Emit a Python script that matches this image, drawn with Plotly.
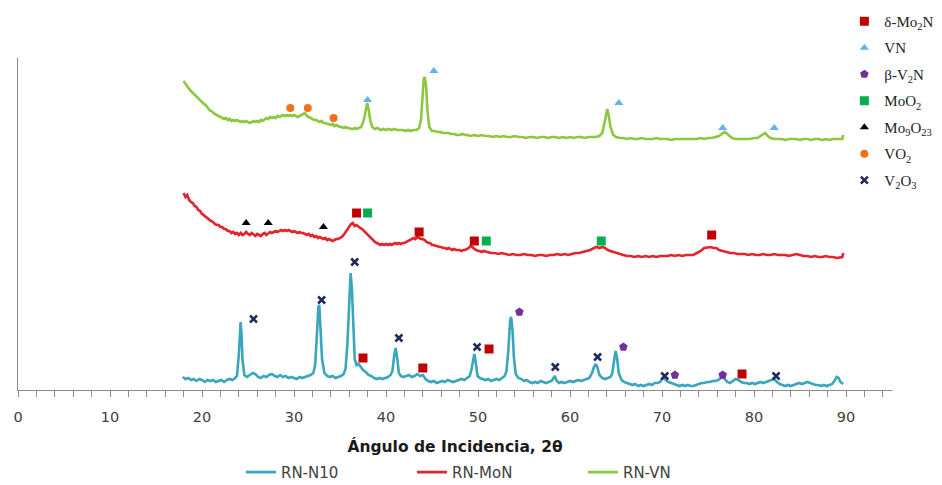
import plotly.graph_objects as go

# Diffractograms (2θ in degrees, intensity in arbitrary units, stacked with offsets)
rn_n10 = [
    (17.9, 18), (18.2, 16), (18.5, 17), (18.8, 15), (19.1, 16), (19.4, 14), (19.7, 16), (20.0, 15),
    (20.3, 13), (20.6, 15), (20.9, 14), (21.2, 15), (21.5, 13), (21.8, 14), (22.1, 15), (22.4, 13),
    (22.7, 15), (23.0, 16), (23.3, 15), (23.6, 17), (23.8, 19), (24.0, 40), (24.1, 62), (24.2, 73),
    (24.3, 60), (24.4, 35), (24.6, 20), (24.9, 18), (25.2, 20), (25.5, 22), (25.8, 21), (26.1, 18),
    (26.4, 17), (26.7, 19), (27.0, 18), (27.3, 20), (27.6, 21), (27.9, 19), (28.2, 18), (28.5, 20),
    (28.8, 18), (29.1, 19), (29.4, 17), (29.7, 18), (30.0, 17), (30.3, 16), (30.6, 18), (30.9, 17),
    (31.2, 18), (31.5, 19), (31.8, 20), (32.1, 22), (32.3, 30), (32.5, 62), (32.65, 88), (32.75, 90),
    (32.9, 65), (33.05, 36), (33.3, 22), (33.6, 19), (33.9, 18), (34.2, 19), (34.5, 17), (34.8, 18),
    (35.1, 19), (35.4, 21), (35.6, 26), (35.8, 50), (36.0, 100), (36.15, 122), (36.3, 105), (36.45, 60),
    (36.6, 36), (36.8, 30), (37.0, 31), (37.2, 29), (37.5, 25), (37.8, 23), (38.1, 20), (38.4, 19),
    (38.7, 17), (39.0, 16), (39.3, 17), (39.6, 16), (39.9, 17), (40.2, 18), (40.5, 20), (40.7, 24),
    (40.9, 40), (41.05, 47), (41.2, 38), (41.4, 22), (41.6, 19), (41.9, 18), (42.2, 19), (42.5, 20),
    (42.8, 18), (43.1, 19), (43.4, 21), (43.7, 19), (44.0, 20), (44.3, 16), (44.6, 14), (44.9, 13),
    (45.2, 14), (45.5, 12), (45.8, 13), (46.1, 14), (46.4, 13), (46.7, 15), (47.0, 14), (47.3, 13),
    (47.6, 14), (47.9, 15), (48.2, 16), (48.5, 15), (48.8, 17), (49.1, 19), (49.3, 26), (49.5, 39),
    (49.6, 41), (49.75, 33), (49.95, 19), (50.2, 17), (50.5, 16), (50.8, 15), (51.1, 16), (51.4, 14),
    (51.7, 15), (52.0, 16), (52.3, 15), (52.6, 17), (52.9, 19), (53.1, 24), (53.3, 45), (53.5, 75),
    (53.6, 78), (53.75, 65), (53.9, 38), (54.1, 21), (54.4, 17), (54.7, 16), (55.0, 14), (55.3, 15),
    (55.6, 13), (55.9, 12), (56.2, 13), (56.5, 12), (56.8, 14), (57.1, 13), (57.4, 12), (57.7, 13),
    (58.0, 14), (58.2, 17), (58.35, 19), (58.5, 15), (58.8, 12), (59.1, 13), (59.4, 12), (59.7, 13),
    (60.0, 14), (60.3, 13), (60.6, 14), (60.9, 15), (61.2, 14), (61.5, 15), (61.8, 16), (62.1, 17),
    (62.4, 22), (62.6, 28), (62.8, 31), (63.0, 27), (63.2, 20), (63.5, 17), (63.8, 16), (64.1, 17),
    (64.4, 18), (64.6, 22), (64.8, 38), (64.95, 44), (65.1, 38), (65.3, 22), (65.6, 15), (65.9, 13),
    (66.2, 12), (66.5, 11), (66.8, 10), (67.1, 11), (67.4, 9), (67.7, 10), (68.0, 9), (68.3, 10),
    (68.6, 11), (68.9, 10), (69.2, 12), (69.5, 12), (69.8, 13), (70.0, 16), (70.2, 18), (70.4, 15),
    (70.7, 13), (71.0, 12), (71.3, 11), (71.6, 10), (71.9, 9), (72.2, 10), (72.5, 9), (72.8, 10),
    (73.1, 9), (73.4, 9), (73.7, 10), (74.0, 11), (74.3, 12), (74.6, 12), (74.9, 13), (75.2, 13),
    (75.5, 14), (75.8, 14), (76.1, 15), (76.4, 17), (76.6, 19), (76.8, 16), (77.1, 13), (77.4, 12),
    (77.7, 14), (78.0, 16), (78.3, 15), (78.6, 13), (78.9, 12), (79.2, 12), (79.5, 11), (79.8, 12),
    (80.1, 11), (80.4, 12), (80.7, 13), (81.0, 12), (81.3, 13), (81.6, 14), (81.9, 15), (82.2, 16),
    (82.5, 13), (82.8, 11), (83.1, 10), (83.4, 9), (83.7, 10), (84.0, 9), (84.3, 10), (84.6, 11),
    (84.9, 12), (85.2, 11), (85.5, 12), (85.8, 13), (86.1, 12), (86.4, 11), (86.7, 10), (87.0, 10),
    (87.3, 9), (87.6, 10), (87.9, 9), (88.2, 10), (88.5, 11), (88.8, 15), (89.0, 18), (89.2, 17),
    (89.4, 13), (89.7, 11),
]

rn_mon = [
    (18.0, 202), (18.2, 198), (18.4, 200), (18.6, 195), (18.8, 193), (19.0, 192), (19.2, 189), (19.4, 188),
    (19.6, 185), (19.8, 184), (20.0, 181), (20.2, 180), (20.4, 178), (20.6, 177), (20.8, 175), (21.0, 174),
    (21.2, 173), (21.4, 171), (21.6, 170), (21.8, 170), (22.0, 168), (22.2, 168), (22.4, 166), (22.6, 166),
    (22.8, 164), (23.0, 164), (23.2, 162), (23.4, 163), (23.6, 161), (23.8, 162), (24.0, 160), (24.2, 162),
    (24.4, 160), (24.6, 161), (24.8, 163), (25.0, 161), (25.2, 160), (25.4, 162), (25.6, 160), (25.8, 159),
    (26.0, 161), (26.2, 160), (26.4, 159), (26.6, 161), (26.8, 162), (27.0, 160), (27.2, 162), (27.4, 163),
    (27.6, 162), (27.8, 163), (28.0, 164), (28.2, 163), (28.4, 164), (28.6, 165), (28.8, 164), (29.0, 165),
    (29.2, 164), (29.4, 165), (29.6, 164), (29.8, 163), (30.0, 164), (30.2, 163), (30.4, 162), (30.6, 163),
    (30.8, 162), (31.0, 162), (31.2, 161), (31.4, 160), (31.6, 161), (31.8, 159), (32.0, 160), (32.2, 158),
    (32.4, 159), (32.6, 157), (32.8, 158), (33.0, 157), (33.2, 156), (33.4, 157), (33.6, 155), (33.8, 156),
    (34.0, 155), (34.2, 154), (34.4, 155), (34.6, 156), (34.8, 156), (35.0, 157), (35.2, 158), (35.4, 160),
    (35.6, 163), (35.8, 166), (36.0, 168), (36.2, 171), (36.4, 172), (36.6, 169), (36.8, 170), (37.0, 168),
    (37.2, 167), (37.4, 166), (37.6, 164), (37.8, 162), (38.0, 160), (38.2, 158), (38.4, 157), (38.6, 155),
    (38.8, 153), (39.0, 152), (39.2, 151), (39.4, 150), (39.6, 151), (39.8, 150), (40.0, 151), (40.2, 150),
    (40.4, 151), (40.6, 150), (40.8, 151), (41.0, 152), (41.2, 151), (41.4, 152), (41.6, 151), (41.8, 152),
    (42.0, 152), (42.2, 153), (42.4, 154), (42.6, 155), (42.8, 156), (43.0, 157), (43.2, 156), (43.4, 158),
    (43.6, 157), (43.8, 156), (44.0, 156), (44.2, 155), (44.4, 153), (44.6, 152), (44.8, 152), (45.0, 150),
    (45.2, 150), (45.4, 149), (45.6, 149), (45.8, 148), (46.0, 148), (46.2, 147), (46.4, 147), (46.6, 146),
    (46.8, 147), (47.0, 146), (47.2, 145), (47.4, 146), (47.6, 145), (47.8, 145), (48.0, 145), (48.2, 144),
    (48.4, 145), (48.6, 145), (48.8, 146), (49.0, 147), (49.2, 149), (49.4, 148), (49.6, 146), (49.8, 145),
    (50.0, 144), (50.2, 144), (50.4, 143), (50.6, 144), (51.0, 143), (51.4, 142), (51.8, 142), (52.2, 141),
    (52.6, 142), (53.0, 141), (53.4, 140), (53.8, 141), (54.2, 140), (54.6, 140), (55.0, 141), (55.4, 140),
    (55.8, 140), (56.2, 139), (56.6, 140), (57.0, 140), (57.4, 139), (57.8, 140), (58.2, 140), (58.6, 141),
    (59.0, 140), (59.4, 141), (59.8, 140), (60.2, 141), (60.6, 142), (61.0, 142), (61.4, 143), (61.8, 144),
    (62.2, 145), (62.6, 147), (62.9, 148), (63.2, 147), (63.5, 148), (63.8, 147), (64.1, 145), (64.4, 144),
    (64.7, 143), (65.0, 142), (65.4, 141), (65.8, 140), (66.2, 139), (66.6, 139), (67.0, 138), (67.4, 139),
    (67.8, 138), (68.2, 139), (68.6, 138), (69.0, 139), (69.4, 138), (69.8, 139), (70.2, 139), (70.6, 139),
    (71.0, 140), (71.4, 139), (71.8, 140), (72.2, 139), (72.6, 140), (73.0, 140), (73.4, 140), (73.8, 142),
    (74.2, 144), (74.6, 147), (75.0, 148), (75.3, 148), (75.6, 147), (75.9, 147), (76.2, 145), (76.6, 144),
    (77.0, 143), (77.4, 142), (77.8, 142), (78.2, 141), (78.6, 141), (79.0, 141), (79.4, 140), (79.8, 141),
    (80.2, 140), (80.6, 140), (81.0, 141), (81.4, 140), (81.8, 140), (82.2, 141), (82.6, 140), (83.0, 140),
    (83.4, 140), (83.8, 139), (84.2, 140), (84.6, 141), (85.0, 140), (85.4, 139), (85.8, 139), (86.2, 138),
    (86.6, 139), (87.0, 138), (87.4, 138), (87.8, 139), (88.2, 138), (88.6, 138), (89.0, 137), (89.4, 138),
    (89.6, 138), (89.7, 142),
]

rn_vn = [
    (18.0, 314), (18.2, 311), (18.4, 309), (18.6, 306), (18.8, 304), (19.0, 302), (19.2, 300), (19.4, 298),
    (19.6, 297), (19.8, 294), (20.0, 293), (20.2, 291), (20.4, 290), (20.6, 287), (20.8, 285), (21.0, 284),
    (21.2, 282), (21.4, 281), (21.6, 280), (21.8, 279), (22.0, 278), (22.2, 277), (22.4, 276), (22.6, 277),
    (22.8, 275), (23.0, 276), (23.2, 274), (23.4, 275), (23.6, 274), (23.8, 275), (24.0, 274), (24.2, 273),
    (24.4, 274), (24.6, 273), (24.8, 274), (25.0, 273), (25.2, 272), (25.4, 273), (25.6, 274), (25.8, 273),
    (26.0, 274), (26.2, 273), (26.4, 275), (26.6, 274), (26.8, 276), (27.0, 277), (27.2, 276), (27.4, 278),
    (27.6, 277), (27.8, 278), (28.0, 277), (28.2, 279), (28.4, 278), (28.6, 279), (28.8, 280), (29.0, 279),
    (29.2, 280), (29.4, 279), (29.6, 280), (29.8, 279), (30.0, 280), (30.2, 279), (30.4, 278), (30.6, 279),
    (30.8, 280), (31.0, 281), (31.2, 282), (31.4, 279), (31.6, 278), (31.8, 277), (32.0, 276), (32.2, 275),
    (32.4, 275), (32.6, 274), (32.8, 273), (33.0, 274), (33.2, 272), (33.4, 272), (33.6, 271), (33.8, 271),
    (34.0, 270), (34.2, 271), (34.4, 269), (34.6, 270), (34.8, 269), (35.0, 268), (35.2, 268), (35.4, 267),
    (35.6, 268), (35.8, 267), (36.0, 267), (36.2, 266), (36.4, 266), (36.6, 267), (36.8, 266), (37.0, 267),
    (37.3, 268), (37.6, 275), (37.8, 287), (37.95, 292), (38.1, 286), (38.3, 274), (38.5, 268), (38.8, 266),
    (39.1, 267), (39.4, 265), (39.7, 266), (40.0, 265), (40.3, 266), (40.6, 265), (40.9, 266), (41.2, 265),
    (41.5, 265), (41.8, 265), (42.1, 264), (42.4, 265), (42.7, 264), (43.0, 265), (43.3, 265), (43.6, 267),
    (43.8, 275), (43.95, 300), (44.1, 316), (44.2, 318), (44.35, 310), (44.5, 285), (44.7, 268), (45.0, 264),
    (45.3, 264), (45.6, 263), (45.9, 263), (46.2, 262), (46.5, 262), (46.8, 262), (47.1, 261), (47.4, 261),
    (47.7, 260), (48.0, 260), (48.3, 261), (48.6, 260), (48.9, 260), (49.2, 259), (49.6, 260), (50.0, 259),
    (50.4, 260), (50.8, 259), (51.2, 259), (51.6, 258), (52.0, 259), (52.4, 258), (52.8, 259), (53.2, 258),
    (53.6, 258), (54.0, 259), (54.4, 258), (54.8, 258), (55.2, 257), (55.6, 258), (56.0, 258), (56.4, 257),
    (56.8, 258), (57.2, 258), (57.6, 257), (58.0, 258), (58.4, 258), (58.8, 257), (59.2, 258), (59.6, 257),
    (60.0, 258), (60.4, 257), (60.8, 258), (61.2, 258), (61.6, 257), (62.0, 258), (62.4, 258), (62.8, 258),
    (63.2, 259), (63.5, 262), (63.75, 272), (63.95, 284), (64.05, 286), (64.2, 280), (64.4, 268), (64.7, 260),
    (65.0, 258), (65.4, 257), (65.8, 257), (66.2, 256), (66.6, 257), (67.0, 256), (67.4, 256), (67.8, 257),
    (68.2, 256), (68.6, 256), (69.0, 256), (69.4, 257), (69.8, 256), (70.2, 256), (70.6, 256), (71.0, 255),
    (71.4, 256), (71.8, 256), (72.2, 256), (72.6, 256), (73.0, 256), (73.4, 256), (73.8, 256), (74.2, 257),
    (74.6, 256), (75.0, 257), (75.4, 257), (75.8, 258), (76.2, 259), (76.5, 261), (76.8, 263), (77.0, 262),
    (77.3, 259), (77.6, 257), (78.0, 256), (78.4, 256), (78.8, 256), (79.2, 256), (79.6, 256), (80.0, 257),
    (80.4, 257), (80.7, 259), (81.0, 261), (81.2, 262), (81.5, 259), (81.8, 257), (82.2, 256), (82.6, 256),
    (83.0, 256), (83.4, 255), (83.8, 256), (84.2, 256), (84.6, 256), (85.0, 255), (85.4, 256), (85.8, 256),
    (86.2, 255), (86.6, 256), (87.0, 256), (87.4, 255), (87.8, 256), (88.2, 255), (88.6, 256), (89.0, 256),
    (89.4, 256), (89.6, 256), (89.7, 260),
]

# Phase identification marks (2θ, label height)
d_mo2n = [(36.8, 182), (43.6, 163), (49.6, 154), (75.4, 160), (37.5, 37), (44.0, 27), (51.2, 46), (78.7, 21)]
vn = [(38.0, 295), (45.2, 324), (65.3, 292), (76.6, 267), (82.2, 267)]
b_v2n = [(54.5, 83), (65.8, 48), (71.4, 20), (76.6, 20)]
moo2 = [(38.0, 182), (50.9, 154), (63.4, 154)]
mo9o23 = [(24.8, 172), (27.2, 172), (33.2, 168)]
vo2 = [(29.6, 287), (31.5, 287), (34.3, 277)]
v2o3 = [(25.6, 76), (33.0, 95), (36.6, 133), (41.4, 57), (49.9, 48), (58.4, 28), (63.0, 38), (70.3, 19), (82.4, 19)]

series = [
    ("RN-N10", rn_n10, "#3aa6bb"),
    ("RN-MoN", rn_mon, "#e0252c"),
    ("RN-VN", rn_vn, "#8dc63f"),
]

phases = [
    ("δ-Mo<sub>2</sub>N", d_mo2n, "square", "#c00000", 9),
    ("VN", vn, "triangle-up", "#5cb4ec", 8),
    ("β-V<sub>2</sub>N", b_v2n, "pentagon", "#7030a0", 9),
    ("MoO<sub>2</sub>", moo2, "square", "#00b050", 9),
    ("Mo<sub>9</sub>O<sub>23</sub>", mo9o23, "triangle-up", "#000000", 8),
    ("VO<sub>2</sub>", vo2, "circle", "#f0701e", 8),
    ("V<sub>2</sub>O<sub>3</sub>", v2o3, "x-thin", "#1f2a5c", 7),
]

fig = go.Figure()

for name, pts, color in series:
    fig.add_trace(go.Scatter(
        x=[p[0] for p in pts], y=[p[1] for p in pts],
        mode="lines", name=name,
        line=dict(color=color, width=2.6),
        legend="legend",
    ))

for i, (name, pts, symbol, color, size) in enumerate(phases):
    marker = dict(symbol=symbol, color=color, size=size)
    if symbol == "x-thin":
        marker["line"] = dict(color=color, width=2.5)
    fig.add_trace(go.Scatter(
        x=[p[0] for p in pts], y=[p[1] for p in pts],
        mode="markers", name=name, marker=marker,
        legend="legend2", legendgroup=f"g{i}",
    ))

fig.update_layout(
    width=942, height=485,
    margin=dict(l=18, r=50, t=58, b=95, autoexpand=False),
    plot_bgcolor="white", paper_bgcolor="white",
    font=dict(family="DejaVu Sans", color="#404040"),
    legend=dict(
        orientation="h", x=0.2551, y=-0.248, xanchor="left", yanchor="middle",
        font=dict(family="DejaVu Sans", size=15, color="#404040"),
        entrywidth=126, entrywidthmode="pixels", bgcolor="rgba(0,0,0,0)",
    ),
    legend2=dict(
        orientation="v", x=0.9455, y=1.16, xanchor="left", yanchor="top",
        font=dict(family="Liberation Serif", size=15, color="#222222"),
        tracegroupgap=4, bgcolor="rgba(0,0,0,0)",
    ),
    xaxis=dict(
        range=[0, 95], showgrid=False, zeroline=False,
        showline=True, linecolor="#8c8c8c", linewidth=1,
        ticks="outside", ticklen=6, tickcolor="#8c8c8c",
        tick0=0, dtick=10, ticklabelstandoff=8,
        minor=dict(dtick=2, ticks="outside", ticklen=6, tickcolor="#8c8c8c"),
        tickfont=dict(family="DejaVu Sans", size=14.5, color="#404040"),
        title=dict(text="<b>Ángulo de Incidencia, 2θ</b>",
                   font=dict(family="DejaVu Sans", size=15.5, color="#1a1a1a"),
                   standoff=16),
    ),
    yaxis=dict(
        range=[5, 337], showgrid=False, zeroline=False,
        showline=True, linecolor="#8c8c8c", linewidth=1,
        ticks="", showticklabels=False,
    ),
)

fig.write_html("out.html")
